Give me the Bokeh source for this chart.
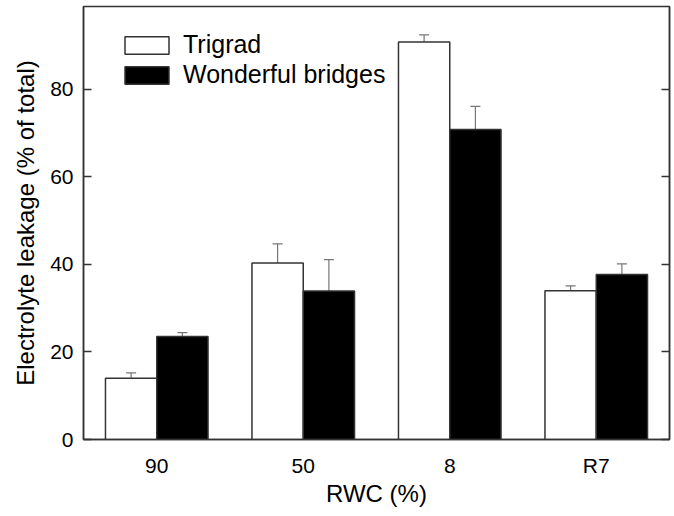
from bokeh.plotting import figure
from bokeh.models import (FactorRange, Range1d, LinearAxis, FixedTicker, Whisker,
                          TeeHead, ColumnDataSource, Legend, LegendItem, CustomJSTickFormatter)
from bokeh.transform import dodge
from bokeh.embed import file_html
from bokeh.resources import INLINE

categories = ["90", "50", "8", "R7"]
trigrad = [14.0, 40.3, 90.8, 34.0]
trigrad_err = [1.2, 4.4, 1.6, 1.1]
wonderful = [23.5, 33.9, 70.8, 37.7]
wonderful_err = [0.9, 7.2, 5.3, 2.4]
y_ticks = [0, 20, 40, 60, 80]

FONT = "Liberation Sans"
AXC = "#333333"

src = ColumnDataSource(dict(
    cat=categories,
    t=trigrad, t_up=[v + e for v, e in zip(trigrad, trigrad_err)],
    w=wonderful, w_up=[v + e for v, e in zip(wonderful, wonderful_err)],
))

p = figure(x_range=FactorRange(*categories, range_padding=0), y_range=Range1d(0, 98.9),
           width=674, height=516, output_backend="svg", toolbar_location=None,
           min_border_left=83, min_border_right=5, min_border_top=6, min_border_bottom=77)
p.background_fill_color = "white"
p.border_fill_color = "white"
p.grid.visible = False
p.outline_line_color = AXC
p.outline_line_width = 1.5

bw = 0.35
r1 = p.vbar(x=dodge("cat", -bw / 2, range=p.x_range), top="t", width=bw, source=src,
            fill_color="white", line_color=AXC, line_width=1.5)
r2 = p.vbar(x=dodge("cat", bw / 2, range=p.x_range), top="w", width=bw, source=src,
            fill_color="black", line_color=AXC, line_width=1.5)

for col, up, off in (("t", "t_up", -bw / 2), ("w", "w_up", bw / 2)):
    wk = Whisker(base=dodge("cat", off, range=p.x_range), lower=col, upper=up, source=src,
                 upper_head=TeeHead(size=10, line_color="#777777", line_width=1.2),
                 lower_head=None, line_color="#777777", line_width=1.2)
    p.add_layout(wk)

# axes
p.yaxis.ticker = FixedTicker(ticks=y_ticks)
p.yaxis.major_tick_in = 8
p.yaxis.major_tick_out = 0
p.yaxis.minor_tick_line_color = None
p.yaxis.axis_line_color = AXC
p.yaxis.axis_line_width = 1.5
p.yaxis.major_tick_line_color = AXC
p.yaxis.major_tick_line_width = 1.5
p.yaxis.major_label_text_font = FONT
p.yaxis.major_label_text_font_size = "21px"
p.yaxis.major_label_text_color = "black"
p.yaxis.major_label_standoff = 10
p.yaxis.axis_label = "Electrolyte leakage (% of total)"
p.yaxis.axis_label_text_font = FONT
p.yaxis.axis_label_text_font_size = "24px"
p.yaxis.axis_label_text_font_style = "normal"
p.yaxis.axis_label_text_color = "black"
p.yaxis.axis_label_standoff = 8

p.xaxis.major_tick_line_color = None
p.xaxis.minor_tick_line_color = None
p.xaxis.axis_line_color = AXC
p.xaxis.axis_line_width = 1.5
p.xaxis.major_label_text_font = FONT
p.xaxis.major_label_text_font_size = "21px"
p.xaxis.major_label_text_color = "black"
p.xaxis.major_label_standoff = 8
p.xaxis.axis_label = "RWC (%)"
p.xaxis.axis_label_text_font = FONT
p.xaxis.axis_label_text_font_size = "24px"
p.xaxis.axis_label_text_font_style = "normal"
p.xaxis.axis_label_text_color = "black"
p.xaxis.axis_label_standoff = 0

right = LinearAxis(ticker=FixedTicker(ticks=y_ticks),
                   formatter=CustomJSTickFormatter(code="return ''"),
                   major_tick_in=8, major_tick_out=0, major_label_standoff=0,
                   major_label_text_font_size="0px",
                   minor_tick_line_color=None, axis_line_color=AXC, axis_line_width=1.5,
                   major_tick_line_color=AXC, major_tick_line_width=1.5)
p.add_layout(right, "right")

legend = Legend(items=[LegendItem(label="Trigrad", renderers=[r1]),
                       LegendItem(label="Wonderful bridges", renderers=[r2])],
                glyph_width=55, glyph_height=22, spacing=1,
                label_text_font=FONT, label_text_font_size="25px", label_text_color="black",
                label_standoff=9, padding=0, margin=0,
                border_line_color=None, background_fill_alpha=0)
legend.location = (36, 350)
p.add_layout(legend)

open("out.html", "w").write(file_html(p, INLINE))
